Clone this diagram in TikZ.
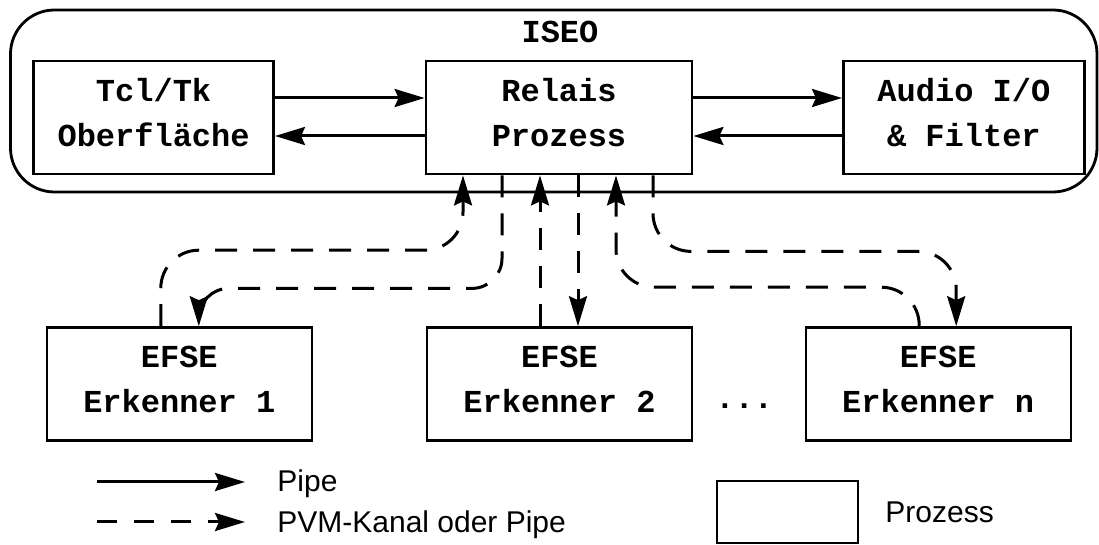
\documentclass[tikz,border=0pt]{standalone}
\usepackage{fontspec}
\setmainfont{Liberation Sans}
\setmonofont{Liberation Mono}
\usepackage{tikz}
\usetikzlibrary{arrows.meta,positioning,calc}
\tikzstyle{proz}=[draw, line width=1.4pt, minimum width=120pt, minimum height=56.5pt,
  align=center, text depth=5pt, inner sep=0pt,
  font=\ttfamily\bfseries\fontsize{16}{22.5}\selectfont]
\tikzstyle{erk}=[proz, line width=1.2pt, minimum width=132.5pt]
\tikzstyle{pipe}=[draw, line width=1.5pt, -{Stealth[length=15pt,width=9pt,inset=2pt]}]
\tikzstyle{kanal}=[pipe, dash pattern=on 11pt off 8pt]
\tikzstyle{kurve}=[kanal, rounded corners=19pt]
\tikzstyle{legtext}=[anchor=base west, inner sep=0pt, font=\fontsize{15}{18}\selectfont]
\newcommand{\proz}[3]{node (p#1)[proz, minimum width=#2]{#3}}
\newcommand{\erk}[2]{node (p#1)[erk]{#2}}

\begin{document}
\begin{tikzpicture}[x=0.5pt, y=-0.5pt]
	\useasboundingbox (0,0) rectangle (1099,545);

	% ISEO frame
	\node (piseo) [draw, line width=1.4pt, rounded corners=22pt,
	  minimum width=543.25pt, minimum height=91pt] at (553.75,101) {};
	\node (liseo) [anchor=base, inner sep=0pt,
	  font=\ttfamily\bfseries\fontsize{16}{22.5}\selectfont] at (560,43) {ISEO};

	% Draw processes
	\path (559,117.5) \proz{relais}{133pt}{Relais\\Prozess};
	\path (prelais.west)+(-271,0) \proz{tcl}{120pt}{Tcl/Tk\\Oberfläche};
	\path (prelais.east)+(270.5,0) \proz{audio}{120.5pt}{Audio I/O\\\& Filter};

	\path (prelais.south)+(0.5,208.5) \erk{e2}{EFSE\\Erkenner 2};
	\path (pe2.west)+(-246.5,0) \erk{e1}{EFSE\\Erkenner 1};
	\path (pe2.east)+(245,0) \erk{en}{EFSE\\Erkenner n};
	\path (pe2.east)+(51,24.5) node (pdots) [anchor=base, inner sep=0pt,
	  font=\ttfamily\bfseries\fontsize{16}{22.5}\selectfont] {...};

	% Pipes
	\path [pipe] ($(ptcl.east)+(0,-19.5)$) -- ($(prelais.west)+(0,-19.5)$);
	\path [pipe] ($(prelais.west)+(0,18.5)$) -- ($(ptcl.east)+(0,18.5)$);
	\path [pipe] ($(prelais.east)+(0,-19.5)$) -- ($(paudio.west)+(0,-19.5)$);
	\path [pipe] ($(paudio.west)+(0,18.5)$) -- ($(prelais.east)+(0,18.5)$);

	% PVM channels
	\path [kurve] ($(pe1.north)+(-18.5,0)$) -- ++(0,-76) -| ($(prelais.south)+(-96,0)$);
	\path [kurve, rounded corners=15pt] ($(prelais.south)+(-57,0)$) -- ++(0,113) -| ($(pe1.north)+(19.5,0)$);
	\path [kanal] ($(pe2.north)+(-19.5,0)$) -- ($(prelais.south)+(-19,0)$);
	\path [kanal] ($(prelais.south)+(19,0)$) -- ($(pe2.north)+(18.5,0)$);
	\path [kurve] ($(pen.north)+(-19,0)$) -- ++(0,-39) -| ($(prelais.south)+(57,0)$);
	\path [kurve] ($(prelais.south)+(94,0)$) -- ++(0,76) -| ($(pen.north)+(18,0)$);

	% Legend
	\coordinate (lpipea) at (97,482);
	\coordinate (lpipeb) at (245,482);
	\path [pipe] (lpipea) -- (lpipeb);
	\node (lpipe) [legtext] at (277,492) {Pipe};
	\coordinate (lkanala) at (97,522);
	\coordinate (lkanalb) at (245,522);
	\path [kanal, dash pattern=on 10pt off 8.5pt] (lkanala) -- (lkanalb);
	\node (lkanal) [legtext] at (277,532) {PVM-Kanal oder Pipe};
	\node (lbox) [draw, line width=1.2pt, minimum width=70.5pt, minimum height=31pt] at (787.5,512) {};
	\node (lproz) [legtext] at (885,523) {Prozess};

\end{tikzpicture}
\end{document}
